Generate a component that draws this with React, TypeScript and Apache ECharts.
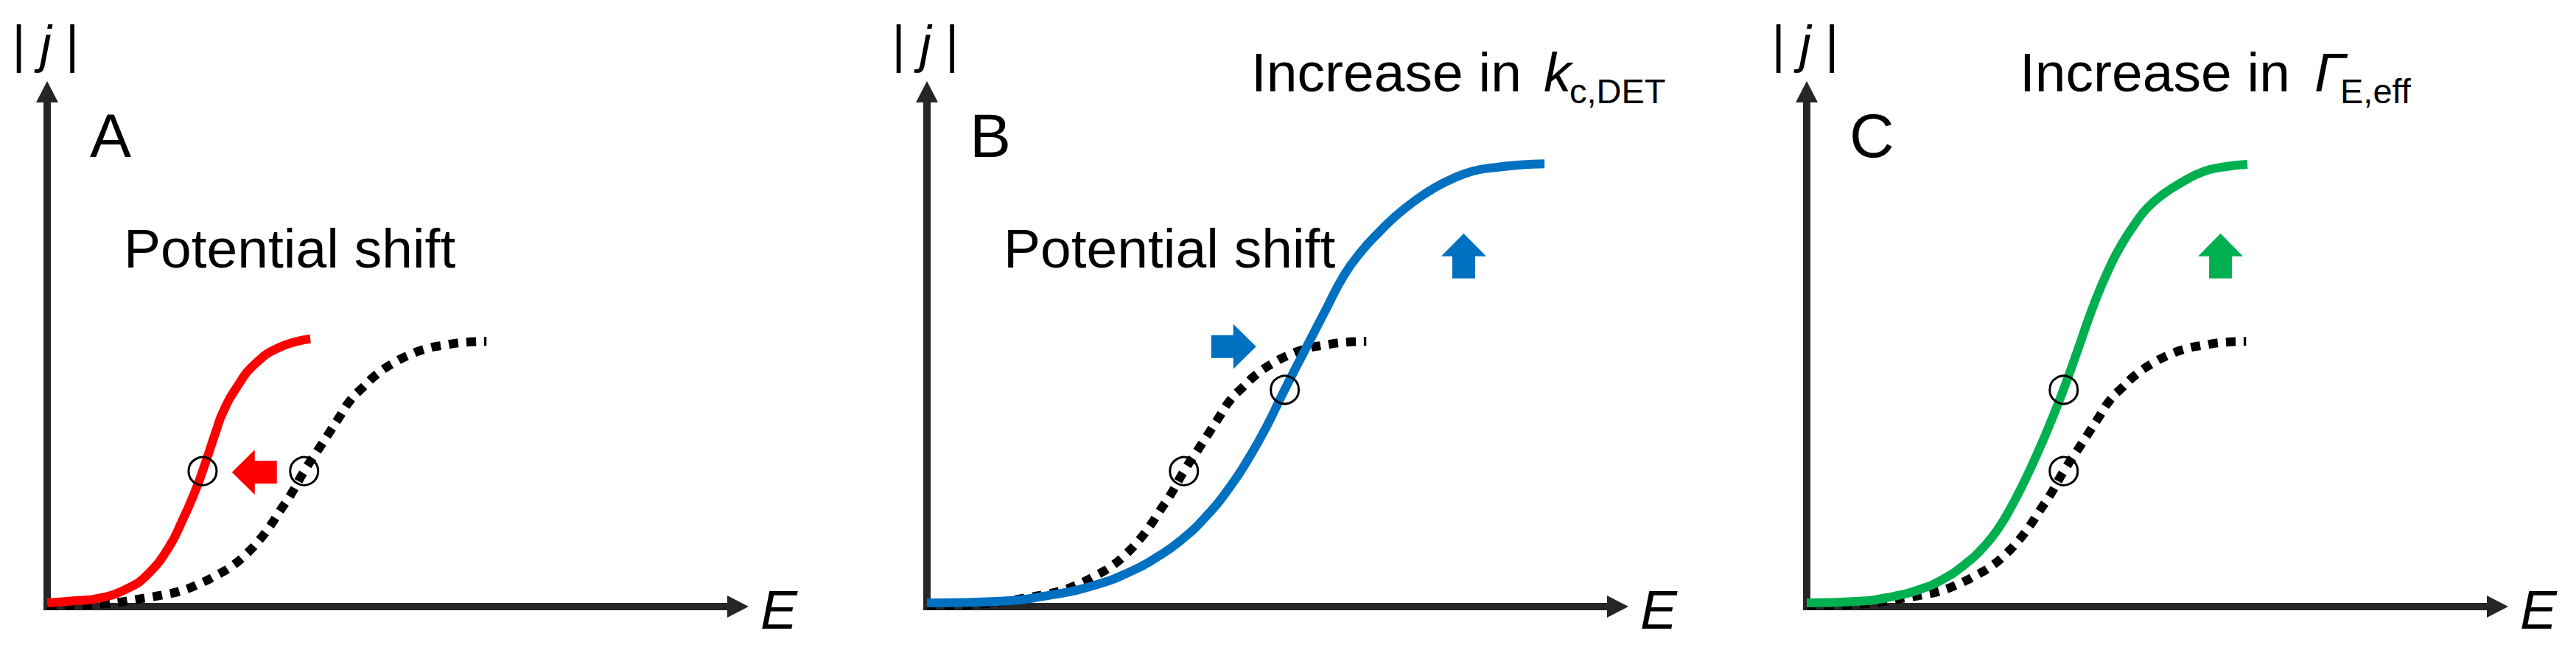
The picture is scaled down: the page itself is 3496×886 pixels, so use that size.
import React, { useEffect, useRef } from 'react';
import * as echarts from 'echarts';

// ---- data (arbitrary units, E on x, |j| on y, both axes 0..100) ----
// shared reference curve (black dotted)
const baselineCurve = [
  [0, 0.3], [4.3, 0.3], [8.9, 0.6], [11.6, 1.1], [14.3, 1.7], [16.9, 2.3], [19.5, 3.1],
  [22.0, 4.4], [24.4, 6.0], [26.8, 7.9], [28.9, 10.3], [30.7, 12.9], [32.3, 15.7],
  [33.7, 18.6], [35.3, 21.8], [37.2, 26.3], [39.4, 30.8], [40.9, 33.9], [42.2, 36.6],
  [43.9, 40.1], [45.8, 42.7], [47.7, 45.1], [50.0, 47.2], [52.3, 48.8], [54.9, 50.1],
  [57.6, 50.8], [60.2, 51.3], [63.6, 51.5],
];
// panel A: potential shift (red)
const curveA = [
  [0, 0.7], [3.8, 1.1], [7.4, 1.6], [11.6, 3.5], [14.5, 6.2], [17.6, 11.5],
  [19.6, 16.8], [21.3, 22.0], [22.5, 26.3], [24.4, 33.9], [25.4, 37.6], [27.4, 42.5],
  [30.0, 47.0], [33.7, 50.4], [38.1, 52.0],
];
// panel B: increase in k_c,DET (blue)
const curveB = [
  [0, 0.7], [10.1, 1.0], [17.3, 2.1], [24.4, 4.2], [29.8, 7.0], [33.3, 9.6], [36.8, 12.9],
  [40.4, 17.5], [43.9, 23.3], [46.8, 29.3], [49.1, 34.8], [51.7, 41.9], [54.6, 49.5],
  [57.6, 57.3], [60.4, 64.4], [62.9, 69.0], [65.5, 72.8], [67.9, 75.9], [70.4, 78.6],
  [73.3, 81.2], [75.9, 83.0], [79.1, 84.6], [82.3, 85.3], [85.9, 85.8], [89.4, 86.0],
];
// panel C: increase in Gamma_E,eff (green)
const curveC = [
  [0, 0.7], [7.3, 1.0], [12.6, 2.0], [16.5, 3.4], [19.7, 5.3], [22.9, 8.2], [25.7, 11.7],
  [27.8, 15.3], [29.7, 19.6], [31.5, 24.3], [33.2, 29.2], [35.0, 34.8], [37.1, 41.9],
  [39.3, 50.1], [41.4, 58.1], [43.5, 64.9], [45.7, 70.6], [47.8, 74.9], [49.2, 77.3],
  [51.3, 79.8], [53.9, 82.1], [57.4, 84.5], [60.9, 85.5], [63.8, 85.9],
];
// half-wave points (open circles)
const halfPointsA = [[22.5, 26.3], [37.2, 26.3]];
const halfPointsB = [[51.8, 42.1], [37.2, 26.3]];
const halfPointsC = [[37.2, 42.1], [37.2, 26.3]];
// block arrows (centre) and their directions
const arrowsA = [[30.0, 26.1]];
const arrowDirsA = ['left'];
const arrowsB = [[44.4, 50.5], [77.7, 68.1]];
const arrowDirsB = ['right', 'up'];
const arrowsC = [[59.9, 68.1]];
const arrowDirsC = ['up'];

const panelLetters = ['A', 'B', 'C'];

// ---- layout / style ----
const W = 3496;
const H = 886;
const PANEL_STEP = 1194;
const ORIGIN_X = 64;
const AXIS_Y = 823;
const GRID_TOP = 124.5;
const GRID_W = 937.5;
const GRID_H = AXIS_Y - GRID_TOP;
const FONT = '"Liberation Sans", Arial, Helvetica, sans-serif';
const AXIS_COLOR = '#262626';
const COLORS = ['#FF0000', '#0070C0', '#00B050'];
const ARROW_PATH = 'path://M0,15L30,15L30,0L61,30.5L30,61L30,46L0,46Z';
const ROT: Record<string, number> = { right: 0, up: 90, left: 180 };

const curves = [curveA, curveB, curveC];
const halfPoints = [halfPointsA, halfPointsB, halfPointsC];
const arrows = [arrowsA, arrowsB, arrowsC];
const arrowDirs = [arrowDirsA, arrowDirsB, arrowDirsC];

function axis(idx: number) {
  return {
    type: 'value',
    gridIndex: idx,
    min: 0,
    max: 100,
    axisLine: {
      show: true,
      onZero: false,
      symbol: ['none', 'triangle'],
      symbolSize: [30, 29],
      lineStyle: { color: AXIS_COLOR, width: 10, cap: 'square' },
    },
    axisTick: { show: false },
    axisLabel: { show: false },
    splitLine: { show: false },
  };
}

function txt(x: number, y: number, text: string, size: number, align = 'left', italic = false) {
  return {
    type: 'text',
    x,
    y,
    silent: true,
    z: 10,
    style: {
      text,
      fontSize: size,
      fontFamily: FONT,
      fontStyle: italic ? 'italic' : 'normal',
      fill: '#000',
      align,
      textAlign: align,
      verticalAlign: 'middle',
      textVerticalAlign: 'middle',
    },
  };
}

function buildOption() {
  const grid: any[] = [];
  const xAxis: any[] = [];
  const yAxis: any[] = [];
  const series: any[] = [];
  const graphic: any[] = [];

  for (let i = 0; i < 3; i++) {
    const o = i * PANEL_STEP;
    grid.push({ left: ORIGIN_X + o, top: GRID_TOP, width: GRID_W, height: GRID_H, containLabel: false });
    xAxis.push(axis(i));
    yAxis.push(axis(i));

    series.push({
      type: 'line',
      xAxisIndex: i,
      yAxisIndex: i,
      data: baselineCurve,
      smooth: 0.5,
      symbol: 'none',
      clip: false,
      silent: true,
      z: 2,
      lineStyle: { color: '#000', width: 12, type: [13, 11], cap: 'butt' },
    });
    series.push({
      type: 'line',
      xAxisIndex: i,
      yAxisIndex: i,
      data: curves[i],
      smooth: 0.5,
      symbol: 'none',
      clip: false,
      silent: true,
      z: 3,
      lineStyle: { color: COLORS[i], width: 12, cap: 'butt' },
    });
    series.push({
      type: 'scatter',
      xAxisIndex: i,
      yAxisIndex: i,
      data: arrows[i].map((p, k) => ({ value: p, symbolRotate: ROT[arrowDirs[i][k]] })),
      symbol: ARROW_PATH,
      symbolSize: [61, 61],
      clip: false,
      silent: true,
      z: 4,
      itemStyle: { color: COLORS[i], opacity: 1 },
    });
    series.push({
      type: 'scatter',
      xAxisIndex: i,
      yAxisIndex: i,
      data: halfPoints[i],
      symbol: 'circle',
      symbolSize: 38,
      clip: false,
      silent: true,
      z: 5,
      itemStyle: { color: 'rgba(0,0,0,0)', borderColor: '#000', borderWidth: 3, opacity: 1 },
    });

    // axis titles
    graphic.push(txt(25.5 + o, 60, '|', 70, 'center'));
    graphic.push(txt(62 + o, 60, 'j', 70, 'center', true));
    graphic.push(txt(98 + o, 60, '|', 70, 'center'));
    graphic.push(txt(1032 + o, 827, 'E', 75, 'left', true));
    // panel letter
    graphic.push(txt(122 + o, 184, panelLetters[i], 84));
  }

  graphic.push(txt(168, 337, 'Potential shift', 75));
  graphic.push(txt(168 + PANEL_STEP, 337, 'Potential shift', 75));

  graphic.push(txt(1698, 98, 'Increase in', 75));
  graphic.push(txt(2095, 98, 'k', 75, 'left', true));
  graphic.push(txt(2130, 123.7, 'c,DET', 47));

  graphic.push(txt(2741, 98, 'Increase in', 75));
  graphic.push(txt(3141, 98, 'Γ', 75, 'left', true));
  graphic.push(txt(3176, 123.7, 'E,eff', 47));

  return {
    animation: false,
    backgroundColor: '#ffffff',
    grid,
    xAxis,
    yAxis,
    series,
    graphic,
  };
}

export default function App() {
  const ref = useRef<HTMLDivElement>(null);
  useEffect(() => {
    if (!ref.current) return;
    const chart = echarts.init(ref.current, null, { renderer: 'svg' });
    chart.setOption(buildOption() as any);
    return () => chart.dispose();
  }, []);
  return (
    <div
      ref={ref}
      style={{ position: 'absolute', left: 0, top: 0, width: W, height: H, background: '#fff' }}
    />
  );
}
